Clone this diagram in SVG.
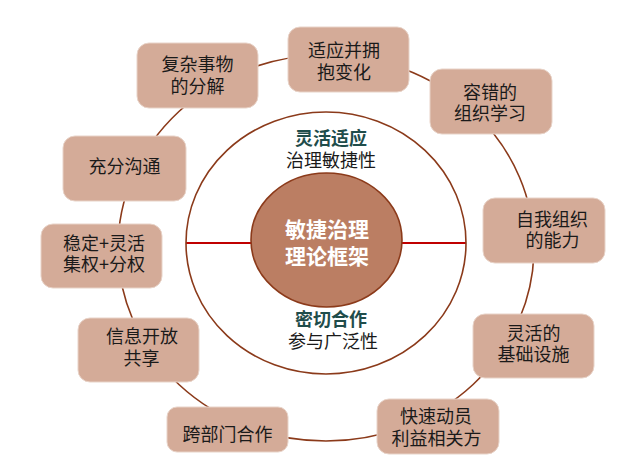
<svg xmlns="http://www.w3.org/2000/svg" width="624" height="471" viewBox="0 0 624 471">
<style>
.box{fill:#D4AB98;stroke:#E8D3C8;stroke-width:1}
.t{font-family:"Noto Sans CJK SC","Microsoft YaHei",sans-serif;font-size:18px;fill:#1A1A1A;text-anchor:middle;dominant-baseline:central}
.h{font-family:"Noto Sans CJK SC",sans-serif;font-size:18px;font-weight:bold;fill:#1F4D4B}
.c{font-family:"Noto Sans CJK SC",sans-serif;font-size:21px;font-weight:bold;fill:#FFFFFF;text-anchor:middle;dominant-baseline:central}
.ring{fill:none;stroke:#8B3A1A;stroke-width:1.6}
.red{stroke:#C00000;stroke-width:1.8}
</style>
<rect width="624" height="471" fill="#FFFFFF"/>
<g id="connectors">
<ellipse class="ring" cx="326" cy="248" rx="208" ry="193"/>
<line class="red" x1="186" y1="243" x2="251" y2="243"/>
<line class="red" x1="402" y1="243" x2="466" y2="243"/>
</g>
<g id="inner-ring">
<ellipse class="ring" cx="326" cy="243" rx="140" ry="131"/>
<text class="t"><tspan class="h" x="331" y="137">灵活适应</tspan><tspan x="331" y="159">治理敏捷性</tspan></text>
<text class="t"><tspan class="h" x="331" y="318">密切合作</tspan><tspan x="333" y="340">参与广泛性</tspan></text>
</g>
<g id="center">
<ellipse cx="326.5" cy="240" rx="75.5" ry="67" fill="#BB7E63" stroke="#8B3A1A" stroke-width="1.6"/>
<text class="c"><tspan x="327" y="228">敏捷治理</tspan><tspan x="327" y="255">理论框架</tspan></text>
</g>
<g id="n1">
<rect class="box" x="137" y="43" width="121" height="65" rx="12"/>
<text class="t"><tspan x="197.5" y="63">复杂事物</tspan><tspan x="197.5" y="85">的分解</tspan></text>
</g>
<g id="n2">
<rect class="box" x="288" y="27" width="121" height="65" rx="12"/>
<text class="t"><tspan x="344" y="49">适应并拥</tspan><tspan x="344" y="71">抱变化</tspan></text>
</g>
<g id="n3">
<rect class="box" x="430" y="69" width="122" height="65" rx="12"/>
<text class="t"><tspan x="490" y="91">容错的</tspan><tspan x="490" y="112">组织学习</tspan></text>
</g>
<g id="n4">
<rect class="box" x="483" y="198" width="122" height="65" rx="12"/>
<text class="t"><tspan x="552" y="218">自我组织</tspan><tspan x="552.5" y="239">的能力</tspan></text>
</g>
<g id="n5">
<rect class="box" x="473" y="314" width="121" height="64" rx="12"/>
<text class="t"><tspan x="533.5" y="332">灵活的</tspan><tspan x="533.5" y="353">基础设施</tspan></text>
</g>
<g id="n6">
<rect class="box" x="377" y="399" width="122" height="55" rx="12"/>
<text class="t"><tspan x="436" y="415">快速动员</tspan><tspan x="436.5" y="437">利益相关方</tspan></text>
</g>
<g id="n7">
<rect class="box" x="167" y="407" width="121" height="45" rx="10"/>
<text class="t" x="227.5" y="433">跨部门合作</text>
</g>
<g id="n8">
<rect class="box" x="78" y="318" width="121" height="64" rx="12"/>
<text class="t"><tspan x="142" y="335">信息开放</tspan><tspan x="141.5" y="357">共享</tspan></text>
</g>
<g id="n9">
<rect class="box" x="41" y="224" width="121" height="64" rx="12"/>
<text class="t"><tspan x="104" y="242">稳定+灵活</tspan><tspan x="104" y="263">集权+分权</tspan></text>
</g>
<g id="n10">
<rect class="box" x="63" y="136" width="123" height="65" rx="12"/>
<text class="t" x="124.5" y="165">充分沟通</text>
</g>
</svg>
